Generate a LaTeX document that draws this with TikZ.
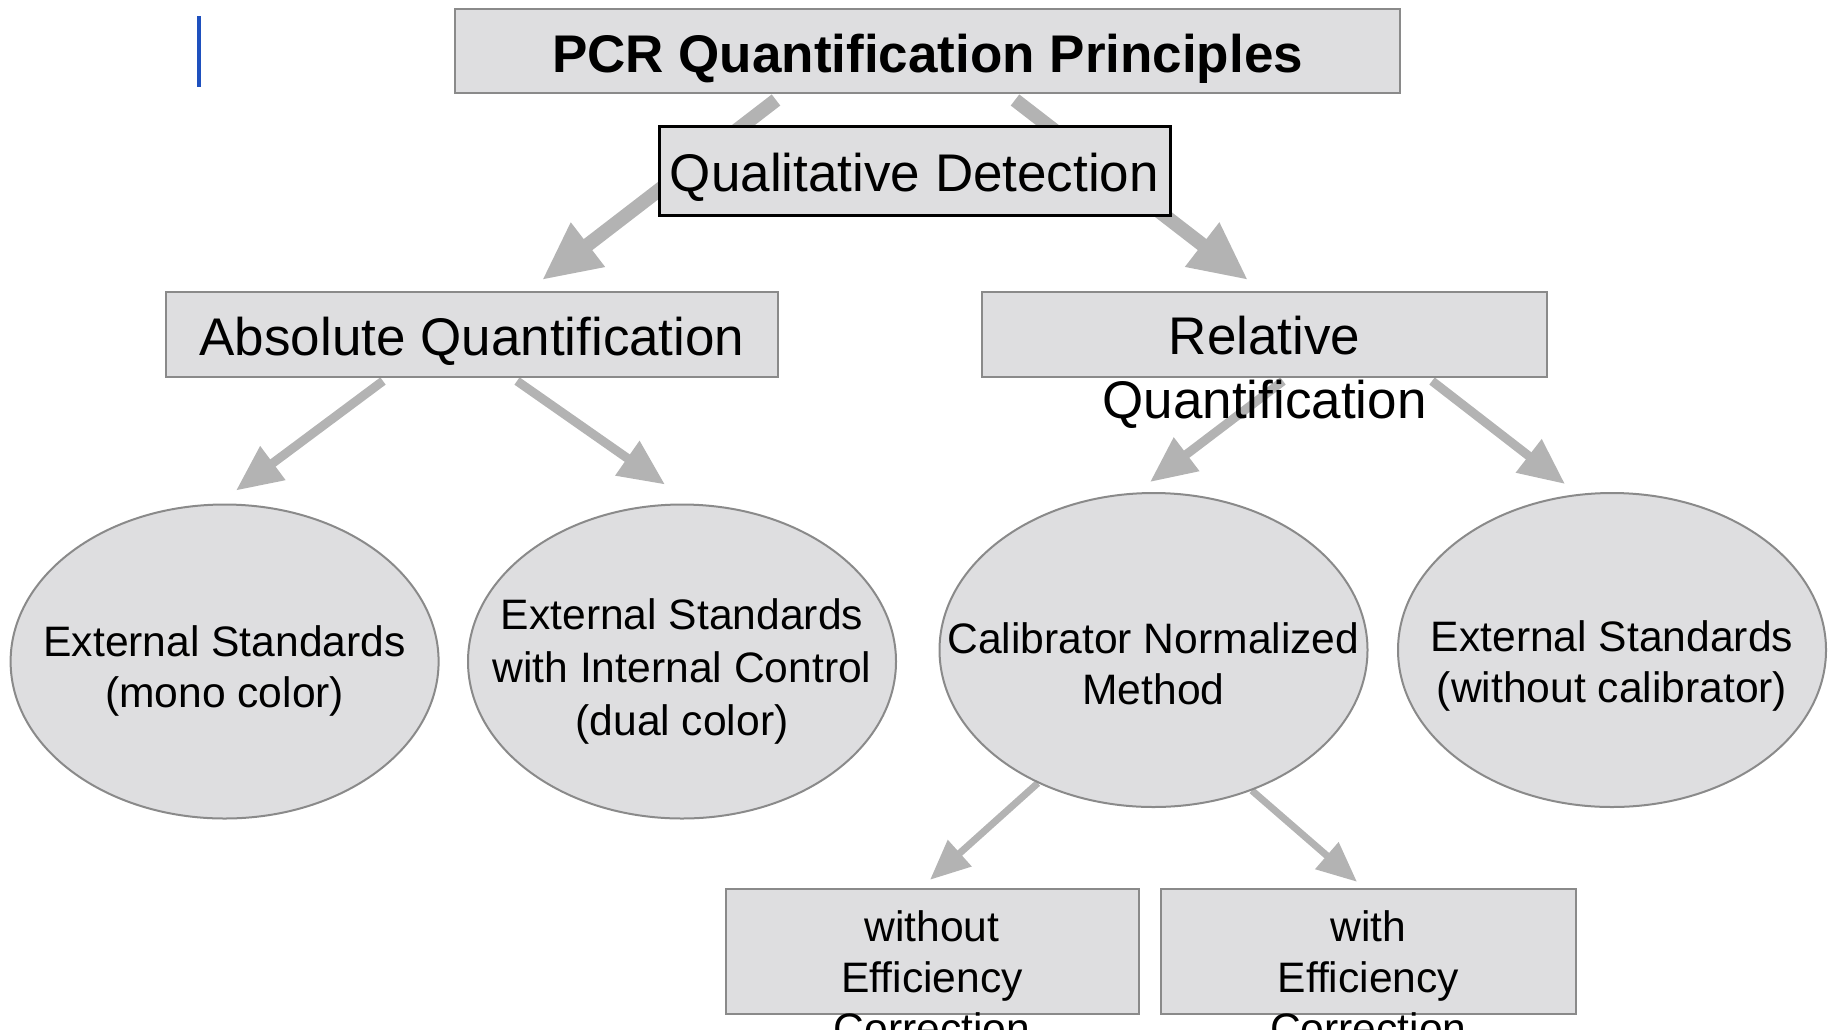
\documentclass[tikz,border=0pt]{standalone}
\usepackage{fontspec}
\setmainfont{Liberation Sans}
\usetikzlibrary{shapes.geometric,arrows.meta,backgrounds,calc}
\definecolor{boxfill}{RGB}{222,222,224}
\definecolor{boxline}{RGB}{138,138,138}
\definecolor{arrowgray}{RGB}{179,179,179}
\definecolor{cursorblue}{RGB}{30,80,190}

\begin{document}
\begin{tikzpicture}[x=0.5pt,y=0.5pt,
		box/.style={draw=boxline,line width=1pt,fill=boxfill,inner sep=0pt},
		oval/.style={ellipse,draw=boxline,line width=1pt,fill=boxfill,inner sep=0pt,minimum width=214pt,minimum height=157pt},
		bigtext/.style={font=\fontsize{26.5}{32}\selectfont,align=center,inner sep=0pt},
		smalltext/.style={font=\fontsize{21.3}{25.5}\selectfont,align=center,inner sep=0pt},
		oneline/.style={text height=21.3pt,text depth=0pt},
		thickarrow/.style={draw=arrowgray,line width=7pt,-{Triangle[length=29pt,width=26pt]}},
		midarrow/.style={draw=arrowgray,line width=4.5pt,-{Triangle[length=23pt,width=20pt]}},
		thinarrow/.style={draw=arrowgray,line width=3.5pt,-{Triangle[length=20pt,width=17pt]}}]
		\useasboundingbox (0,0) rectangle (1829,-1029);
		\clip (0,0) rectangle (1829,-1029);
		\draw [cursorblue,line width=2pt] (199,-16) -- (199,-87);
		\node [box,oneline,minimum width=472.5pt,minimum height=42pt,font=\bfseries\fontsize{26.5}{32}\selectfont] (title) at (927.5,-51) {PCR Quantification Principles};
		\node [box,oneline,draw=black,line width=1.5pt,minimum width=255.5pt,minimum height=44.5pt,bigtext] (qual) at (914.5,-170.5) {Qualitative Detection};
		\node [box,oneline,minimum width=306pt,minimum height=42.5pt,bigtext] (abs) at (472,-334.5) {Absolute Quantification};
		\node [box,minimum width=282.5pt,minimum height=42.5pt] (rel) at (1264.5,-334.5) {};
		\node [bigtext,anchor=north] (relT) at (1264.5,-316) {Relative\\Quantification};
		\node [oval] (mono) at (224.6,-661.5) {};
		\node [smalltext] (monoT) at (224.6,-671) {External Standards\\(mono color)};
		\node [oval] (dual) at (682,-661.5) {};
		\node [smalltext,font=\fontsize{21.3}{26.5}\selectfont] (dualT) at (682,-671) {External Standards\\with Internal Control\\(dual color)};
		\node [oval] (calib) at (1153.5,-650) {};
		\node [smalltext] (calibT) at (1153.5,-664) {Calibrator Normalized\\Method};
		\node [oval] (nocal) at (1612,-650) {};
		\node [smalltext] (nocalT) at (1612,-666) {External Standards\\(without calibrator)};
		\node [box,minimum width=206.5pt,minimum height=62.5pt] (noeff) at (932,-951.3) {};
		\node [smalltext,anchor=north] (noeffT) at (932,-910) {without\\Efficiency\\Correction};
		\node [box,minimum width=207.5pt,minimum height=62.5pt] (witheff) at (1368.4,-951.3) {};
		\node [smalltext,anchor=north] (witheffT) at (1368.4,-910) {with\\Efficiency\\Correction};
		\begin{scope}[on background layer]
		\draw [thickarrow] ($(title.south)+(-151.5,-6)$) -- ($(abs.north)+(70,11)$);
		\draw [thickarrow] ($(title.south)+(87.5,-6)$) -- ($(rel.north)+(-16.5,11)$);
		\draw [midarrow] ($(abs.south)+(-89,-3)$) -- ($(mono.north)+(11.4,13)$);
		\draw [midarrow] ($(abs.south)+(45,-3)$) -- ($(dual.north)+(-17,19)$);
		\draw [midarrow] ($(rel.south)+(18.5,-3)$) -- ($(calib.north)+(-3.5,10)$);
		\draw [midarrow] ($(rel.south)+(167.5,-3)$) -- ($(nocal.north)+(-47,8)$);
		\draw [thinarrow] (calib.-131) -- ($(noeff.north)+(-2,8)$);
		\draw [thinarrow] (calib.-55) -- ($(witheff.north)+(-11.4,6)$);
		\end{scope}
\end{tikzpicture}
\end{document}
